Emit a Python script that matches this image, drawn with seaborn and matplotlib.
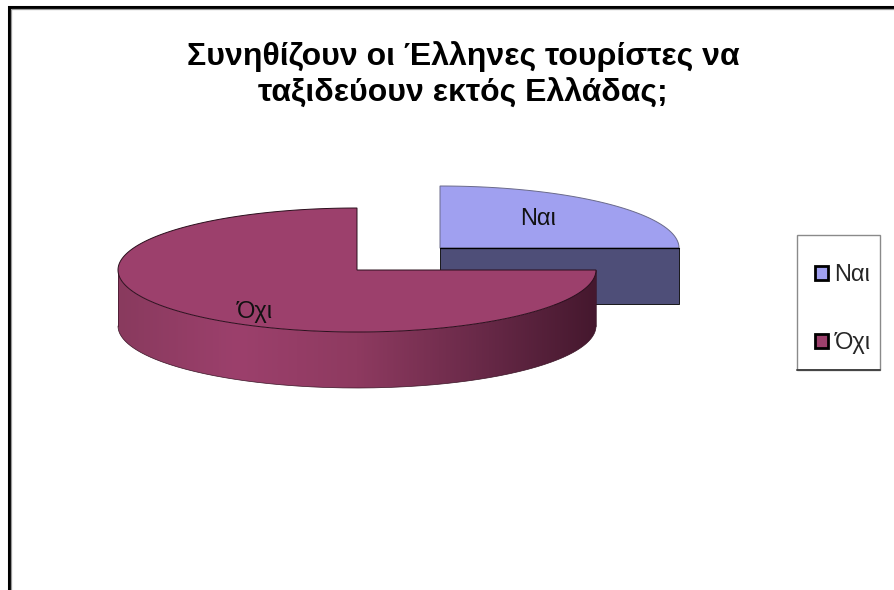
import numpy as np
import matplotlib
matplotlib.use("Agg")
import matplotlib.pyplot as plt
from matplotlib.patches import Polygon, Patch, Rectangle
import seaborn as sns

# Survey answers, in percent
categories = ["Ναι", "Όχι"]
shares = [25, 75]
title_lines = ["Συνηθίζουν οι Έλληνες τουρίστες να", "ταξιδεύουν εκτός Ελλάδας;"]

TOP_COLOURS = ["#A0A0F0", "#9C406C"]
SIDE_COLOUR = "#4E4E78"
SHADE_STOPS = ["#893A5E", "#9C406C", "#8E3A60", "#6A2A49", "#45182E"]

sns.set_theme(style="white")
plt.rcParams["font.family"] = ["Liberation Sans", "DejaVu Sans"]

W, H = 895, 590
fig = plt.figure(figsize=(W / 100, H / 100), dpi=100, facecolor="white")
ax = fig.add_axes([0, 0, 1, 1])
ax.set_xlim(0, W)
ax.set_ylim(H, 0)
ax.axis("off")

# Outer chart frame: heavy black rule with a thin grey rule just inside it
ax.plot([9, 9, W], [H, 7, 7], color="black", lw=2.2, solid_joinstyle="miter")
ax.plot([11.5, 11.5, W], [H, 9, 9], color="#9a9a9a", lw=0.9, solid_joinstyle="miter")

RX, RY, DEPTH = 239, 62, 56
centres = [(440, 248), (357, 270)]


def rim(cx, cy, start, stop, n=240):
    t = np.radians(np.linspace(start, stop, n))
    return np.column_stack([cx + RX * np.cos(t), cy + RY * np.sin(t)])


# Convert shares to sweep angles, clockwise from twelve o'clock
fractions = np.array(shares) / sum(shares)
edges = -90 + 360 * np.concatenate([[0], np.cumsum(fractions)])

# "Ναι" slice, pulled out to the upper right: cut face first, then the top
cx, cy = centres[0]
arc = rim(cx, cy, edges[0], edges[1])
ax.add_patch(Polygon([(cx, cy), arc[-1], arc[-1] + [0, DEPTH], (cx, cy + DEPTH)],
                     closed=True, fc=SIDE_COLOUR, ec="black", lw=0.6, zorder=2))
ax.add_patch(Polygon(np.vstack([[(cx, cy)], arc]), closed=True,
                     fc=TOP_COLOURS[0], ec="#6a6a8a", lw=0.7, zorder=3))
ax.plot([cx, arc[-1][0]], [cy, cy], color="black", lw=0.9, zorder=4)

# "Όχι" slice: shaded curved wall, then the flat top
cx, cy = centres[1]
front = rim(cx, cy, 0, 180)
wall = np.vstack([front, (front + [0, DEPTH])[::-1]])
wall_patch = Polygon(wall, closed=True, fc="none", ec="none", zorder=5)
ax.add_patch(wall_patch)
cmap = sns.blend_palette(SHADE_STOPS, as_cmap=True)
shade = ax.imshow(np.linspace(0, 1, 512)[None, :], cmap=cmap, aspect="auto",
                  extent=(cx - RX, cx + RX, cy + RY + DEPTH, cy - RY), zorder=5)
shade.set_clip_path(wall_patch)
ax.set_xlim(0, W)
ax.set_ylim(H, 0)
ax.plot(*(front + [0, DEPTH]).T, color="#3a1426", lw=0.5, zorder=6)
ax.plot([cx - RX, cx - RX], [cy, cy + DEPTH], color="#3a1426", lw=0.5, zorder=6)
ax.plot([cx + RX, cx + RX], [cy, cy + DEPTH], color="#3a1426", lw=0.5, zorder=6)

arc = rim(cx, cy, edges[1] - 360, edges[2] - 360)
ax.add_patch(Polygon(np.vstack([[(cx, cy)], arc]), closed=True,
                     fc=TOP_COLOURS[1], ec="#2a0e1c", lw=0.7, zorder=7))

# Slice labels
ax.text(538, 219, categories[0], ha="center", va="center", fontsize=17, color="#111111", zorder=8)
ax.text(255, 312, categories[1], ha="center", va="center", fontsize=17, color="#111111", zorder=8)

# Title
ax.text(463, 57, title_lines[0], ha="center", va="center", fontsize=23, fontweight="bold", color="black")
ax.text(463, 94, title_lines[1], ha="center", va="center", fontsize=23, fontweight="bold", color="black")

# Legend box with its heavier lower edge, then the entries inside it
ax.add_patch(Rectangle((797, 235), 83, 135, fc="white", ec="#8a8a8a", lw=1.0, zorder=9))
ax.plot([797, 880], [370, 370], color="#444444", lw=1.4, zorder=10)
handles = [Patch(fc=c, ec="black", lw=2.0) for c in TOP_COLOURS]
leg = ax.legend(handles, categories, loc="center", bbox_to_anchor=(843, 309),
                bbox_transform=ax.transData, frameon=False,
                fontsize=17, labelspacing=1.95, borderpad=0,
                handlelength=0.55, handleheight=0.55, handletextpad=0.25,
                borderaxespad=0)
leg.set_zorder(11)

fig.savefig("out.png", dpi=100, facecolor="white")
